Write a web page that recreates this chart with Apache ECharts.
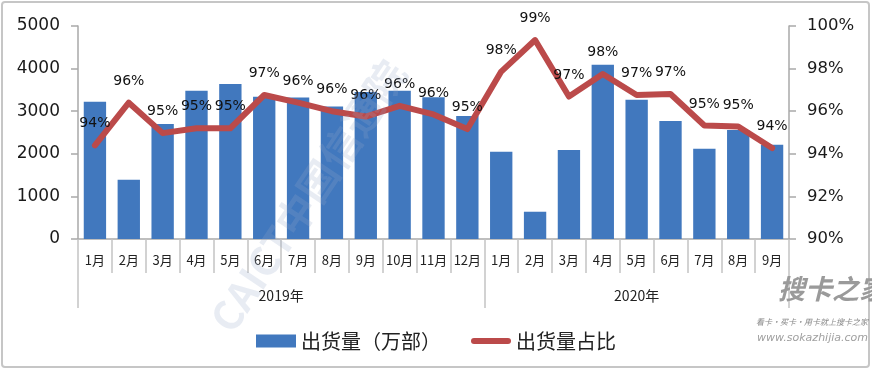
<!DOCTYPE html>
<html>
<head>
<meta charset="utf-8">
<script src="https://cdn.jsdelivr.net/npm/echarts@6/dist/echarts.min.js"></script>
<style>html,body{margin:0;padding:0;background:#fff;}#c{width:872px;height:372px;}</style>
</head>
<body>
<div id="c"></div>
<script>
const months = ['1月','2月','3月','4月','5月','6月','7月','8月','9月','10月','11月','12月',
                '1月','2月','3月','4月','5月','6月','7月','8月','9月'];
const years = ['2019年','2020年'];
const shipments = [3220,1390,2700,3480,3640,3340,3320,3110,3450,3480,3330,2890,
                   2050,640,2090,4090,3270,2770,2120,2560,2210];
const sharePct = [94.4,96.4,94.97,95.2,95.2,96.76,96.4,96.0,95.75,96.25,95.85,95.16,
                  97.86,99.34,96.69,97.75,96.76,96.81,95.33,95.28,94.27];
const leftTicks = [0,5000,1000];
const rightTicks = [90,100,2];

const chart = echarts.init(document.getElementById('c'));
const axisGray = '#a9a9a9';
const red = '#bb4a4a';
chart.setOption({
  animation:false,
  grid:{left:78,right:83,top:26,bottom:133},
  legend:{
    data:[{name:'出货量（万部）',icon:'rect'},
          {name:'出货量占比',icon:'path://M3,0 L37,0 A3,3 0 0 1 37,6 L3,6 A3,3 0 0 1 3,0 Z',itemStyle:{color:red}}],
    left:'center', top:326, itemWidth:40, itemHeight:13, itemGap:30,
    textStyle:{fontSize:20, color:'#222', fontFamily:'Noto Sans CJK SC'}
  },
  xAxis:[
    {type:'category', data:months, position:'bottom',
     axisLine:{show:true,onZero:false,lineStyle:{color:axisGray,width:1.5}},
     axisTick:{show:true,interval:0,length:34,lineStyle:{color:'#c4c4c4',width:1.5}},
     axisLabel:{interval:0,margin:15,fontSize:13,color:'#222',fontFamily:'Noto Sans CJK SC'}},
    {type:'value', min:0, max:21, position:'bottom',
     axisLine:{show:false,onZero:false}, splitLine:{show:false},
     axisTick:{show:true,customValues:[0,12,21],length:69,lineStyle:{color:'#c4c4c4',width:1.5}},
     axisLabel:{customValues:[6,16.5],margin:50,fontSize:14,color:'#222',fontFamily:'Noto Sans CJK SC',
       formatter:function(v){return v<12?years[0]:years[1];}}}
  ],
  yAxis:[
    {type:'value', min:leftTicks[0], max:leftTicks[1], interval:leftTicks[2],
     axisLine:{show:true,lineStyle:{color:axisGray,width:1.5}},
     axisTick:{show:true,length:7,lineStyle:{color:axisGray,width:1.5}},
     splitLine:{show:false},
     axisLabel:{margin:18,fontSize:17,color:'#1a1a1a',fontFamily:'DejaVu Sans',
       formatter:function(v){return String(v);}}},
    {type:'value', min:rightTicks[0], max:rightTicks[1], interval:rightTicks[2], position:'right',
     axisLine:{show:true,lineStyle:{color:axisGray,width:1.5}},
     axisTick:{show:true,length:7,lineStyle:{color:axisGray,width:1.5}},
     splitLine:{show:false},
     axisLabel:{margin:18,fontSize:16.5,color:'#1a1a1a',fontFamily:'DejaVu Sans',formatter:'{value}%'}}
  ],
  series:[
    {name:'出货量（万部）', type:'bar', data:shipments, xAxisIndex:0, yAxisIndex:0,
     barWidth:'66%', itemStyle:{color:'#4178be'}},
    {name:'出货量占比', type:'line', data:sharePct, xAxisIndex:0, yAxisIndex:1,
     symbol:'circle', symbolSize:1, showSymbol:true,
     lineStyle:{color:red,width:6,cap:'round',join:'round'},
     itemStyle:{color:red},
     label:{show:true,position:'top',distance:14,fontSize:14,color:'#111',fontFamily:'DejaVu Sans',
       formatter:function(p){return Math.round(p.value)+'%';}}}
  ],
  graphic:[
    {type:'rect', shape:{x:2,y:2,width:867,height:365,r:3}, style:{fill:'none',stroke:'#c6c6c6',lineWidth:2}, silent:true, z:1},
    {type:'text', x:308, y:196, rotation:0.98, z:100, silent:true,
     style:{text:'CAICT中国信通院', fontSize:40, fontWeight:'bold', fontFamily:'Noto Sans CJK SC',
       fill:'rgba(150,170,200,0.22)', align:'center', verticalAlign:'middle'}},
    {type:'text', x:832, y:289, z:100, silent:true,
     style:{text:'搜卡之家', fontSize:27, fontStyle:'italic', fontWeight:'bold', fontFamily:'Noto Sans CJK SC',
       fill:'#9a9a9a', align:'center', verticalAlign:'middle'}},
    {type:'text', x:868, y:322, z:100, silent:true,
     style:{text:'看卡·买卡·用卡就上搜卡之家', fontSize:8, fontStyle:'italic', fontFamily:'Noto Sans CJK SC',
       fill:'#8a8a8a', align:'right', verticalAlign:'middle'}},
    {type:'text', x:868, y:338, z:100, silent:true,
     style:{text:'www.sokazhijia.com', fontSize:11, fontStyle:'italic', fontFamily:'DejaVu Sans',
       fill:'#a0a0a0', align:'right', verticalAlign:'middle'}}
  ]
});
</script>
</body>
</html>
